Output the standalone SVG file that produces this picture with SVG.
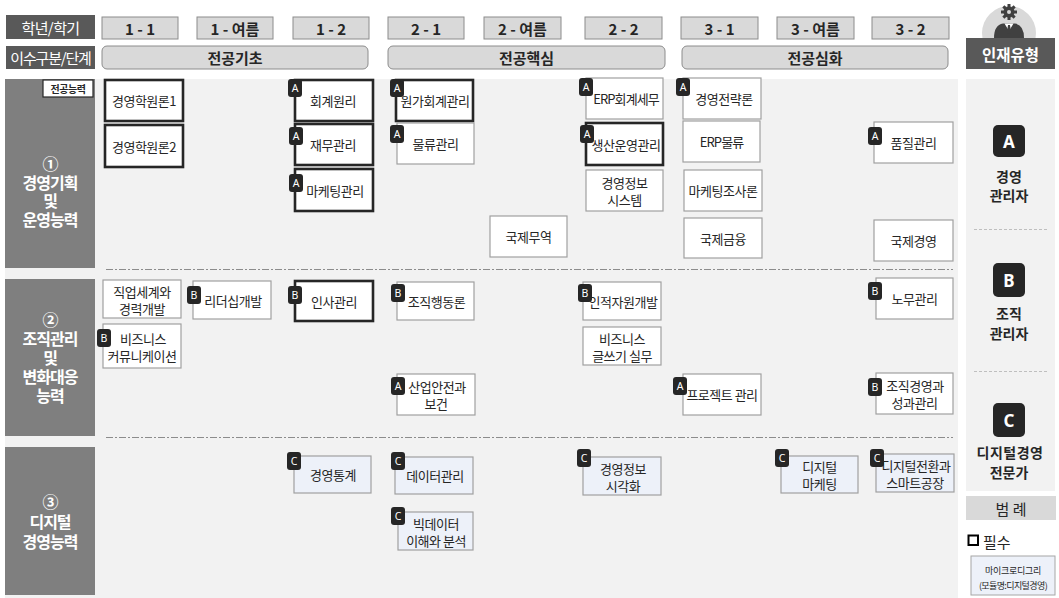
<svg xmlns="http://www.w3.org/2000/svg" width="1059" height="598" viewBox="0 0 1059 598">
<style>
.hd{fill:#595959}
.ht{font-family:"Noto Sans CJK KR","Noto Sans",sans-serif;font-size:15px;fill:#fff;text-anchor:middle;dominant-baseline:central;letter-spacing:-0.6px}
.sem{fill:#d9d9d9;stroke:#8c8c8c;stroke-width:1}
.st{font-family:"Noto Sans CJK KR","Noto Sans",sans-serif;font-size:15px;font-weight:bold;fill:#262626;text-anchor:middle;dominant-baseline:central}
.stage{fill:#d9d9d9;stroke:#8c8c8c;stroke-width:1}
.sec{fill:#7f7f7f}
.sect{font-family:"Noto Sans CJK KR","Noto Sans",sans-serif;font-size:16px;font-weight:bold;fill:#fff;text-anchor:middle;dominant-baseline:central;letter-spacing:-1px}
.box{fill:#fff;stroke:#a0a0a0;stroke-width:1.2}
.req{fill:#fff;stroke:#262626;stroke-width:2.6}
.mod{fill:#edf1f9;stroke:#a0a0a0;stroke-width:1.2}
.t{font-family:"Noto Sans CJK KR","Noto Sans",sans-serif;font-size:13px;fill:#262626;text-anchor:middle;dominant-baseline:central;letter-spacing:-0.5px}
.bd{fill:#262626}
.bt{font-family:"Noto Sans","Liberation Sans",sans-serif;font-size:10.5px;fill:#fff;text-anchor:middle;dominant-baseline:central}
.sep{stroke:#8c8c8c;stroke-width:1;stroke-dasharray:7 2 2 2;fill:none}
.dot{stroke:#bfbfbf;stroke-width:1;stroke-dasharray:3 2;fill:none}
.rb{fill:#262626}
.rbt{font-family:"Noto Sans","Liberation Sans",sans-serif;font-size:17px;font-weight:bold;fill:#fff;text-anchor:middle;dominant-baseline:central}
.rt{font-family:"Noto Sans CJK KR","Noto Sans",sans-serif;font-size:14px;font-weight:bold;fill:#262626;text-anchor:middle;dominant-baseline:central}
</style>
<defs>
<rect id="bdg" class="bd" width="14" height="18" rx="3"/>
</defs>

<!-- backgrounds -->
<rect x="5" y="79" width="953" height="519" fill="#f2f2f2"/>
<rect x="966" y="79" width="89" height="412" fill="#f2f2f2"/>

<!-- header row 1 -->
<g id="hdr-year">
<rect class="hd" x="6" y="15" width="89" height="24"/>
<text class="ht" x="50.5" y="27">학년/학기</text>
</g>
<g id="semesters">
<rect class="sem" x="102" y="17" width="76" height="22"/><text class="st" x="140" y="28">1 - 1</text>
<rect class="sem" x="197" y="17" width="76" height="22"/><text class="st" x="235" y="28">1 - 여름</text>
<rect class="sem" x="293" y="17" width="76" height="22"/><text class="st" x="331" y="28">1 - 2</text>
<rect class="sem" x="388" y="17" width="76" height="22"/><text class="st" x="426" y="28">2 - 1</text>
<rect class="sem" x="484" y="17" width="77" height="22"/><text class="st" x="522.5" y="28">2 - 여름</text>
<rect class="sem" x="585" y="17" width="77" height="22"/><text class="st" x="623.5" y="28">2 - 2</text>
<rect class="sem" x="681" y="17" width="77" height="22"/><text class="st" x="719.5" y="28">3 - 1</text>
<rect class="sem" x="777" y="17" width="77" height="22"/><text class="st" x="815.5" y="28">3 - 여름</text>
<rect class="sem" x="872" y="17" width="77" height="22"/><text class="st" x="910.5" y="28">3 - 2</text>
</g>

<!-- header row 2 -->
<g id="hdr-stage">
<rect class="hd" x="6" y="46" width="89" height="23"/>
<text class="ht" x="50.5" y="57.5" style="letter-spacing:-1.2px">이수구분/단계</text>
</g>
<g id="stages">
<rect class="stage" x="102" y="46" width="266" height="23" rx="5"/><text class="st" x="235" y="57.5">전공기초</text>
<rect class="stage" x="388" y="46" width="277" height="23" rx="5"/><text class="st" x="526.5" y="57.5">전공핵심</text>
<rect class="stage" x="682" y="46" width="266" height="23" rx="5"/><text class="st" x="815" y="57.5">전공심화</text>
</g>

<!-- talent type header -->
<g id="hdr-talent">
<circle cx="1009" cy="33" r="27" fill="#d9d9d9"/>
<g fill="#404040">
<circle cx="1009" cy="12" r="5.5"/>
<rect x="1007.5" y="4" width="3" height="16"/>
<rect x="1001" y="10.5" width="16" height="3"/>
<rect x="1007.5" y="4" width="3" height="16" transform="rotate(45 1009 12)"/>
<rect x="1007.5" y="4" width="3" height="16" transform="rotate(-45 1009 12)"/>
<path d="M994 38 Q994 25 1003 23.5 L1015 23.5 Q1024 25 1024 38 Z"/>
</g>
<circle cx="1009" cy="12" r="2" fill="#d9d9d9"/>
<polygon points="1004.5,23.5 1009,31 1013.5,23.5" fill="#fff"/>
<polygon points="1008,25 1010,25 1011,32 1009,35 1007,32" fill="#404040"/>
<rect class="hd" x="966" y="38" width="89" height="31"/>
<text class="ht" x="1010.5" y="53.5" style="font-size:15.5px;font-weight:bold;letter-spacing:0">인재유형</text>
</g>

<!-- section labels -->
<g id="sec1">
<rect class="sec" x="5" y="79" width="90" height="189"/>
<text class="sect" x="50" y="163"><tspan x="50">①</tspan><tspan x="50" dy="19">경영기획</tspan><tspan x="50" dy="18">및</tspan><tspan x="50" dy="19">운영능력</tspan></text>
<rect x="43" y="80" width="50" height="17" fill="#fff" stroke="#262626" stroke-width="1.2"/>
<text x="68" y="88.5" style="font-family:'Noto Sans CJK KR',sans-serif;font-size:10px;font-weight:bold;fill:#262626;text-anchor:middle;dominant-baseline:central;letter-spacing:-0.5px">전공능력</text>
</g>
<g id="sec2">
<rect class="sec" x="5" y="279" width="90" height="157"/>
<text class="sect" x="50" y="319"><tspan x="50">②</tspan><tspan x="50" dy="19">조직관리</tspan><tspan x="50" dy="19">및</tspan><tspan x="50" dy="19">변화대응</tspan><tspan x="50" dy="19">능력</tspan></text>
</g>
<g id="sec3">
<rect class="sec" x="5" y="447" width="90" height="148"/>
<text class="sect" x="50" y="501"><tspan x="50">③</tspan><tspan x="50" dy="20">디지털</tspan><tspan x="50" dy="20">경영능력</tspan></text>
</g>

<!-- connectors (section separators) -->
<g id="connectors">
<line class="sep" x1="106" y1="269.5" x2="953" y2="269.5"/>
<line class="sep" x1="106" y1="437.5" x2="953" y2="437.5"/>
<line class="dot" x1="974" y1="229.5" x2="1047" y2="229.5"/>
<line class="dot" x1="974" y1="371.5" x2="1047" y2="371.5"/>
</g>

<!-- section 1 courses -->
<g id="c-mgmt1"><rect class="req" x="105" y="80" width="78" height="41"/><text class="t" x="144" y="100.5">경영학원론1</text></g>
<g id="c-mgmt2"><rect class="req" x="105" y="125" width="78" height="42"/><text class="t" x="144" y="146">경영학원론2</text></g>
<g id="c-acct"><rect class="req" x="295" y="80" width="78" height="41"/><text class="t" x="333" y="100.5">회계원리</text><use href="#bdg" x="288" y="79"/><text class="bt" x="295" y="88">A</text></g>
<g id="c-fin"><rect class="req" x="295" y="124" width="78" height="41"/><text class="t" x="333" y="144.5">재무관리</text><use href="#bdg" x="289" y="127"/><text class="bt" x="296" y="136">A</text></g>
<g id="c-mkt"><rect class="req" x="295" y="169" width="78" height="42"/><text class="t" x="335" y="190">마케팅관리</text><use href="#bdg" x="289" y="174"/><text class="bt" x="296" y="183">A</text></g>
<g id="c-cost"><rect class="req" x="396" y="80" width="77" height="41"/><text class="t" x="435" y="100.5">원가회계관리</text><use href="#bdg" x="390" y="79"/><text class="bt" x="397" y="88">A</text></g>
<g id="c-logi"><rect class="box" x="397" y="123" width="77" height="41"/><text class="t" x="435.5" y="143.5">물류관리</text><use href="#bdg" x="390" y="125"/><text class="bt" x="397" y="134">A</text></g>
<g id="c-trade"><rect class="box" x="490" y="216" width="77" height="41"/><text class="t" x="528.5" y="236.5">국제무역</text></g>
<g id="c-erpacct"><rect class="box" x="586" y="78" width="77" height="41"/><text class="t" x="626" y="98.5" style="letter-spacing:-0.9px">ERP회계세무</text><use href="#bdg" x="579" y="78"/><text class="bt" x="586" y="87">A</text></g>
<g id="c-prod"><rect class="req" x="586" y="123" width="77" height="42"/><text class="t" x="626" y="144">생산운영관리</text><use href="#bdg" x="580" y="125"/><text class="bt" x="587" y="134">A</text></g>
<g id="c-mis"><rect class="box" x="586" y="170" width="77" height="41"/><text class="t" x="624.5" y="182"><tspan x="624.5">경영정보</tspan><tspan x="624.5" dy="17">시스템</tspan></text></g>
<g id="c-strat"><rect class="box" x="683" y="78" width="78" height="41"/><text class="t" x="724" y="98.5">경영전략론</text><use href="#bdg" x="676" y="78"/><text class="bt" x="683" y="87">A</text></g>
<g id="c-erplogi"><rect class="box" x="683" y="121" width="77" height="41"/><text class="t" x="721.5" y="141.5" style="letter-spacing:-0.9px">ERP물류</text></g>
<g id="c-mktres"><rect class="box" x="684" y="170" width="78" height="41"/><text class="t" x="723" y="190.5">마케팅조사론</text></g>
<g id="c-intfin"><rect class="box" x="684" y="218" width="78" height="40"/><text class="t" x="723" y="238">국제금융</text></g>
<g id="c-quality"><rect class="box" x="874" y="122" width="79" height="41"/><text class="t" x="913.5" y="142.5">품질관리</text><use href="#bdg" x="868" y="127"/><text class="bt" x="875" y="136">A</text></g>
<g id="c-intmgmt"><rect class="box" x="874" y="220" width="79" height="41"/><text class="t" x="913.5" y="240.5">국제경영</text></g>

<!-- section 2 courses -->
<g id="c-career"><rect class="box" x="103" y="280" width="78" height="38"/><text class="t" x="142" y="290.5"><tspan x="142">직업세계와</tspan><tspan x="142" dy="17">경력개발</tspan></text></g>
<g id="c-leader"><rect class="box" x="193" y="281" width="78" height="38"/><text class="t" x="233" y="300">리더십개발</text><use href="#bdg" x="187" y="286"/><text class="bt" x="194" y="295">B</text></g>
<g id="c-hr"><rect class="req" x="295" y="281" width="78" height="40"/><text class="t" x="334" y="301">인사관리</text><use href="#bdg" x="288" y="286"/><text class="bt" x="295" y="295">B</text></g>
<g id="c-bizcom"><rect class="box" x="103" y="324" width="78" height="44"/><text class="t" x="142" y="337.5"><tspan x="143">비즈니스</tspan><tspan x="142" dy="17">커뮤니케이션</tspan></text><use href="#bdg" x="97" y="329"/><text class="bt" x="104" y="338">B</text></g>
<g id="c-ob"><rect class="box" x="397" y="282" width="77" height="38"/><text class="t" x="436.5" y="301">조직행동론</text><use href="#bdg" x="391" y="284"/><text class="bt" x="398" y="293">B</text></g>
<g id="c-hrd"><rect class="box" x="583" y="282" width="78" height="38"/><text class="t" x="623" y="301">인적자원개발</text><use href="#bdg" x="578" y="284"/><text class="bt" x="585" y="293">B</text></g>
<g id="c-bizwrite"><rect class="box" x="583" y="327" width="78" height="38"/><text class="t" x="622" y="337.5"><tspan x="622">비즈니스</tspan><tspan x="622" dy="17">글쓰기 실무</tspan></text></g>
<g id="c-safety"><rect class="box" x="397" y="374" width="78" height="41"/><text class="t" x="437" y="386"><tspan x="437">산업안전과</tspan><tspan x="436" dy="17">보건</tspan></text><use href="#bdg" x="391" y="377"/><text class="bt" x="398" y="386">A</text></g>
<g id="c-pm"><rect class="box" x="683" y="374" width="78" height="41"/><text class="t" x="722" y="394.5">프로젝트 관리</text><use href="#bdg" x="673" y="377"/><text class="bt" x="680" y="386">A</text></g>
<g id="c-labor"><rect class="box" x="876" y="278" width="77" height="41"/><text class="t" x="914.5" y="298.5">노무관리</text><use href="#bdg" x="868" y="282"/><text class="bt" x="875" y="291">B</text></g>
<g id="c-perf"><rect class="box" x="876" y="373" width="77" height="41"/><text class="t" x="915" y="385"><tspan x="915">조직경영과</tspan><tspan x="914.5" dy="17">성과관리</tspan></text><use href="#bdg" x="868" y="378"/><text class="bt" x="875" y="387">B</text></g>

<!-- section 3 courses -->
<g id="c-stat"><rect class="mod" x="294" y="456" width="77" height="37"/><text class="t" x="333" y="474.5">경영통계</text><use href="#bdg" x="287" y="452"/><text class="bt" x="294" y="461">C</text></g>
<g id="c-data"><rect class="mod" x="395" y="457" width="78" height="37"/><text class="t" x="435" y="475.5">데이터관리</text><use href="#bdg" x="391" y="452"/><text class="bt" x="398" y="461">C</text></g>
<g id="c-bigdata"><rect class="mod" x="398" y="512" width="75" height="38"/><text class="t" x="436" y="522.5"><tspan x="436">빅데이터</tspan><tspan x="436" dy="17">이해와 분석</tspan></text><use href="#bdg" x="391" y="507"/><text class="bt" x="398" y="516">C</text></g>
<g id="c-visual"><rect class="mod" x="583" y="457" width="78" height="38"/><text class="t" x="623" y="467.5"><tspan x="623">경영정보</tspan><tspan x="623" dy="17">시각화</tspan></text><use href="#bdg" x="577" y="449"/><text class="bt" x="584" y="458">C</text></g>
<g id="c-digmkt"><rect class="mod" x="781" y="456" width="77" height="37"/><text class="t" x="819.5" y="466"><tspan x="819.5">디지털</tspan><tspan x="819.5" dy="17">마케팅</tspan></text><use href="#bdg" x="775" y="449"/><text class="bt" x="782" y="458">C</text></g>
<g id="c-dx"><rect class="mod" x="876" y="454" width="78" height="38"/><text class="t" x="916" y="464.5"><tspan x="916">디지털전환과</tspan><tspan x="915" dy="17">스마트공장</tspan></text><use href="#bdg" x="870" y="449"/><text class="bt" x="877" y="458">C</text></g>

<!-- talent types -->
<g id="t-a">
<rect class="rb" x="993" y="125" width="32" height="32" rx="5"/><text class="rbt" x="1009" y="141">A</text>
<text class="rt" x="1009" y="176"><tspan x="1009">경영</tspan><tspan x="1009" dy="19">관리자</tspan></text>
</g>
<g id="t-b">
<rect class="rb" x="993" y="263" width="32" height="34" rx="5"/><text class="rbt" x="1009" y="280">B</text>
<text class="rt" x="1009" y="313"><tspan x="1009">조직</tspan><tspan x="1009" dy="20">관리자</tspan></text>
</g>
<g id="t-c">
<rect class="rb" x="993" y="403" width="32" height="34" rx="5"/><text class="rbt" x="1009" y="420">C</text>
<text class="rt" x="1010" y="452"><tspan x="1010" style="letter-spacing:0.5px">디지털경영</tspan><tspan x="1009" dy="20">전문가</tspan></text>
</g>

<!-- legend -->
<g id="legend">
<rect x="966" y="496" width="90" height="24" fill="#d9d9d9"/>
<text x="1011" y="508" style="font-family:'Noto Sans CJK KR',sans-serif;font-size:15px;fill:#262626;text-anchor:middle;dominant-baseline:central">범 례</text>
<rect x="968.5" y="535.5" width="9.5" height="9.5" fill="#fff" stroke="#000" stroke-width="2"/>
<text x="983" y="541" style="font-family:'Noto Sans CJK KR',sans-serif;font-size:15px;fill:#262626;dominant-baseline:central">필수</text>
<rect x="971" y="556" width="84" height="39" fill="#edf1f9" stroke="#a6a6a6" stroke-width="1"/>
<text x="1013" y="569.5" style="font-family:'Noto Sans CJK KR',sans-serif;font-size:9px;fill:#262626;text-anchor:middle;dominant-baseline:central;letter-spacing:-0.3px"><tspan x="1013">마이크로디그리</tspan><tspan x="1013" dy="15" style="letter-spacing:-0.6px">(모듈명:디지털경영)</tspan></text>
</g>
</svg>
